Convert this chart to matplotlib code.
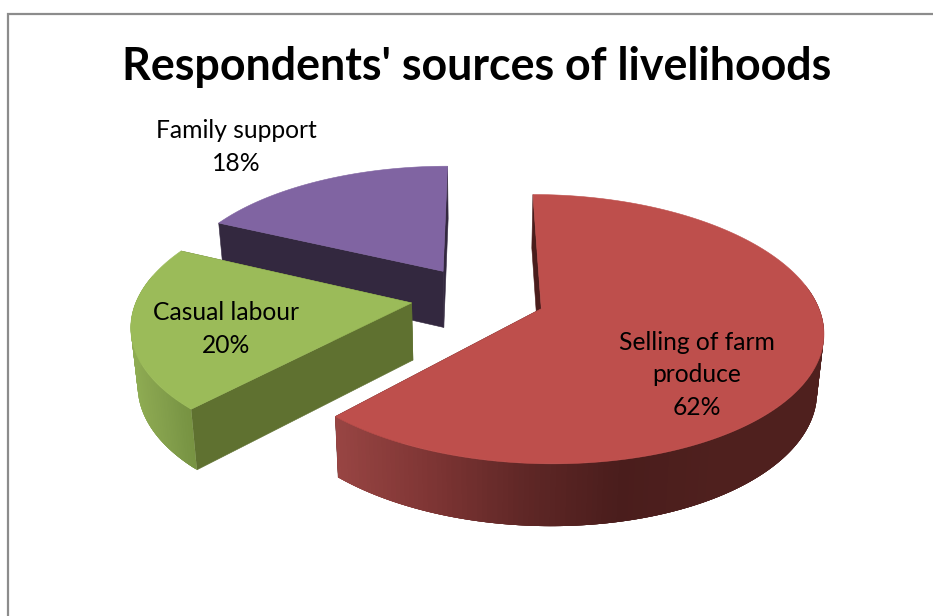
import numpy as np
import matplotlib
matplotlib.use("Agg")
import matplotlib.pyplot as plt
from matplotlib.colors import LinearSegmentedColormap
from matplotlib.patches import Polygon

plt.rcParams['font.family'] = ['Lato', 'DejaVu Sans']

categories = ["Selling of farm\nproduce", "Casual labour", "Family support"]
shares = [62, 20, 18]
percent_labels = ["62%", "20%", "18%"]

top_colors = ["#BE4F4C", "#9BBB59", "#8064A2"]
face_colors = ["#4A1D1C", "#5F7130", "#33283F"]
rim_stops = [
    ["#984543", "#7E3534", "#5F2726", "#4A1D1C", "#4F201E"],
    ["#8FAD53", "#89A54F", "#829E4B", "#7A9645", "#75903F"],
    ["#33283F", "#33283F", "#33283F", "#33283F", "#33283F"],
]

W, H = 933, 616
CX, CY = 478, 297
RX, RY = 274, 128
PERSP = 0.15
EXPLODE = 0.245
DEPTH = 57
TAPER = 0.98
START_ANGLE = 0.0


def project(x, y, lowered=False):
    """Map pie-plane coordinates to canvas pixels with a simple perspective."""
    x, y = np.asarray(x, float), np.asarray(y, float)
    s = 1.0 / (1.0 + PERSP * y)
    px = CX + RX * x * s
    py = CY - RY * y * s
    if lowered:
        px = CX + (px - CX) * TAPER
        py = py + DEPTH * np.sqrt(s)
    return px, py


def poly(ax, xs, ys, color, z, lw=0.4):
    ax.add_patch(Polygon(np.column_stack([xs, ys]), closed=True, facecolor=color,
                         edgecolor=color if lw else "none", linewidth=lw, zorder=z))


fig = plt.figure(figsize=(W / 100, H / 100), dpi=100)
ax = fig.add_axes([0, 0, 1, 1])
ax.set_xlim(0, W)
ax.set_ylim(H, 0)
ax.axis("off")

# chart-area frame, cut off by the page on the right and at the bottom
ax.plot([W, 7.5, 7.5], [13.5, 13.5, H], color="#8C8C8C", lw=1.6, zorder=1,
        solid_joinstyle="miter")

ax.text(477, 67, "Respondents' sources of livelihoods", ha="center", va="center",
        fontsize=32.2, fontweight="bold", color="black", zorder=20)

# paint the back slice first so the nearer ones overlap it
draw_order = [2, 1, 0]
spans = np.array(shares) / sum(shares) * 360.0
starts = START_ANGLE + np.concatenate([[0], np.cumsum(spans)[:-1]])

for base, idx in enumerate(draw_order):
    a0, a1 = starts[idx], starts[idx] + spans[idx]
    mid = np.radians((a0 + a1) / 2)
    ox, oy = EXPLODE * np.sin(mid), EXPLODE * np.cos(mid)
    theta = np.radians(np.linspace(a0, a1, 240))
    ex, ey = ox + np.sin(theta), oy + np.cos(theta)
    z = 3 + base * 3

    # flat radial faces
    for end in (0, -1):
        sx, sy = [ox, ex[end]], [oy, ey[end]]
        tx, ty = project(sx, sy)
        bx, by = project(sx, sy, lowered=True)
        poly(ax, np.r_[tx, bx[::-1]], np.r_[ty, by[::-1]], face_colors[idx], z)

    # curved rim, shaded by screen position; each strip overlaps the next so no seams show
    cmap = LinearSegmentedColormap.from_list("rim", rim_stops[idx])
    tx, ty = project(ex, ey)
    bx, by = project(ex, ey, lowered=True)
    lo, hi = 337.0, 720.0
    if idx == 1:
        lo, hi = 130.0, 200.0
    n = len(theta)
    for i in range(n - 1):
        if np.cos(theta[i]) > 0.2:
            continue
        j = min(i + 4, n - 1)
        frac = np.clip((tx[i] - lo) / (hi - lo), 0, 1)
        poly(ax, np.r_[tx[i:j + 1], bx[i:j + 1][::-1]], np.r_[ty[i:j + 1], by[i:j + 1][::-1]],
             cmap(frac), z + 1, lw=0)

    # flat top
    rx_, ry_ = project(np.r_[ox, ex], np.r_[oy, ey])
    poly(ax, rx_, ry_, top_colors[idx], z + 2)

label_font = 17.7
spacing = 1.5
ax.text(697, 375, f"{categories[0]}\n{percent_labels[0]}", ha="center", va="center",
        fontsize=label_font, linespacing=spacing, zorder=21)
ax.text(226, 329, f"{categories[1]}\n{percent_labels[1]}", ha="center", va="center",
        fontsize=label_font, linespacing=spacing, zorder=21)
ax.text(236, 147, f"{categories[2]}\n{percent_labels[2]}", ha="center", va="center",
        fontsize=label_font, linespacing=spacing, zorder=21)

fig.savefig("out.png", dpi=100, facecolor="white")
